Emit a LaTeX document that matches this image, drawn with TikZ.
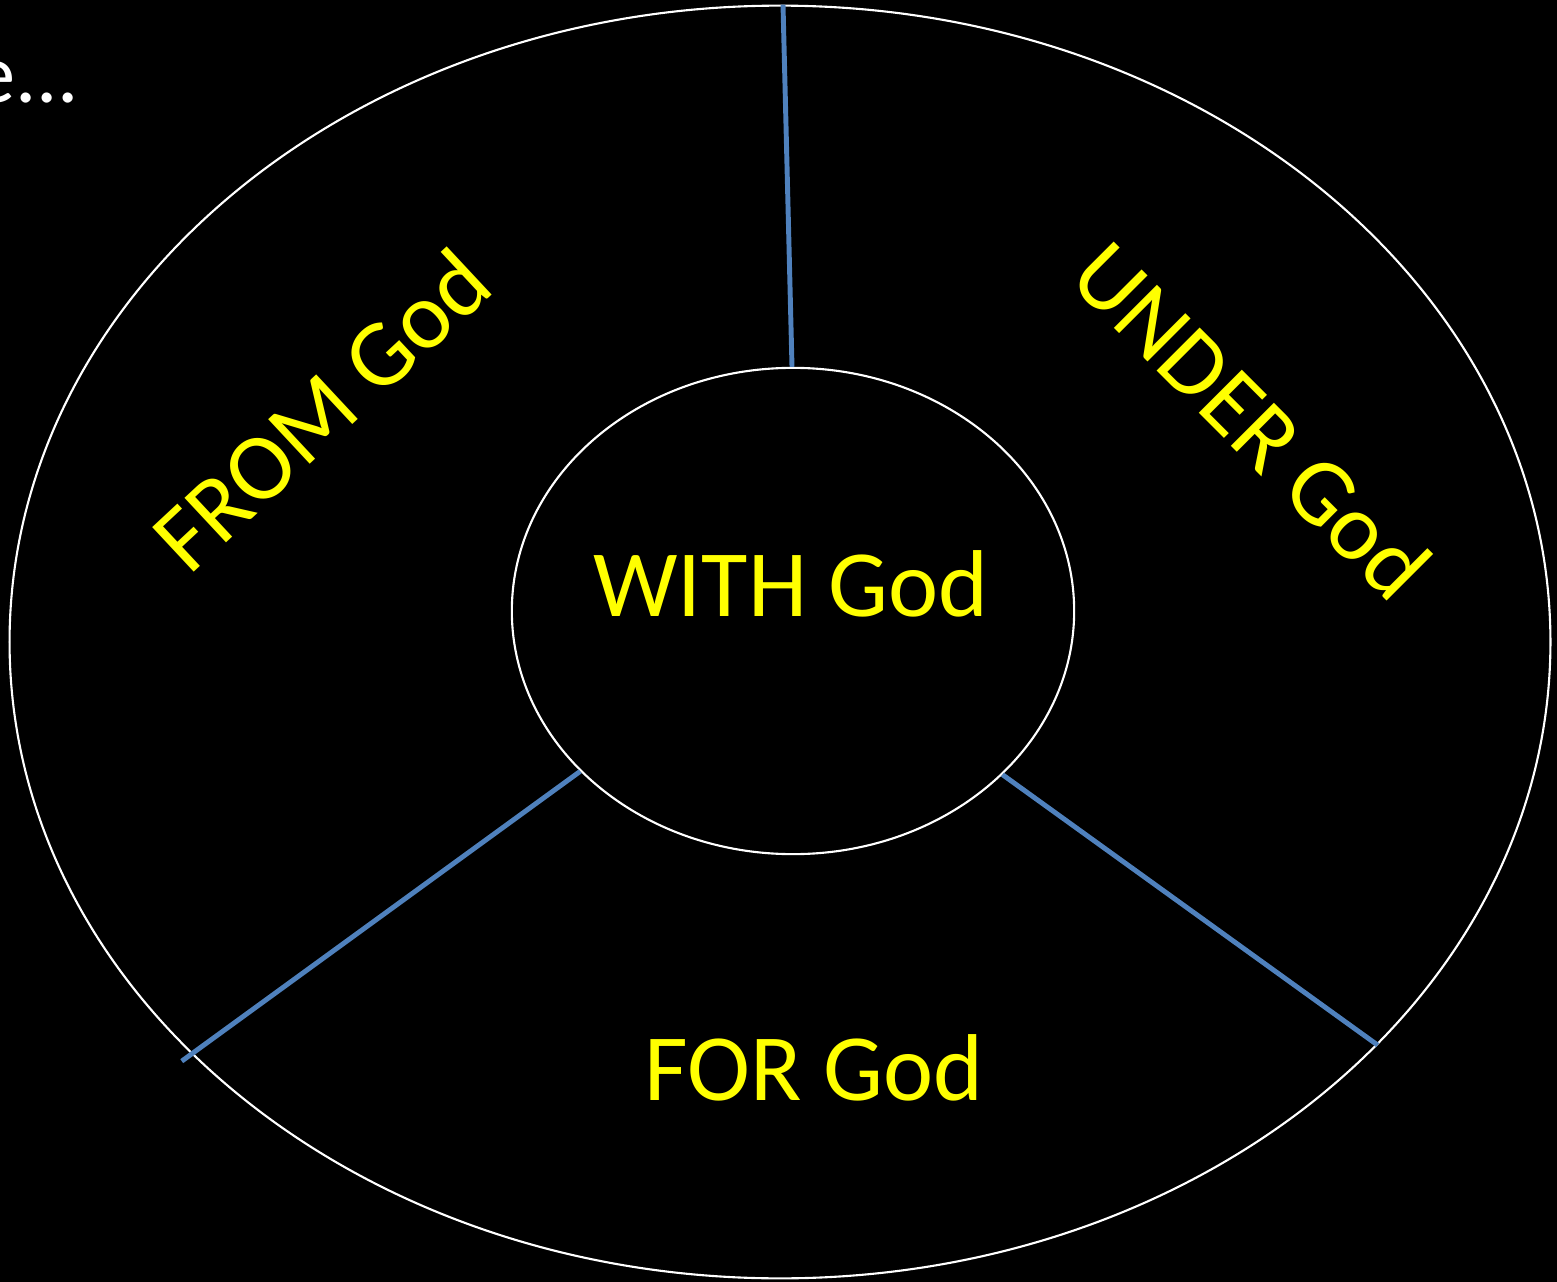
\documentclass[tikz,border=0pt]{standalone}
\usepackage{fontspec}
\setmainfont{Carlito}
\usetikzlibrary{shapes.geometric}
\definecolor{Blue}{HTML}{4F81BD}
\definecolor{Yellow}{HTML}{FFFF00}

\begin{document}
\begin{tikzpicture}[x=0.01cm, y=-0.01cm,
    ring/.style={draw=white, line width=0.6pt, ellipse, inner sep=0pt},
    divider/.style={draw=Blue, line width=1.4pt},
    sectortext/.style={text=Yellow, inner sep=0pt, font=\fontsize{27}{32}\selectfont}]
  \fill[black] (0,0) rectangle (1557,1282);
  \useasboundingbox (0,0) rectangle (1557,1282);
  % rings
  \node[ring, minimum width=15.4cm, minimum height=12.72cm] (outer) at (780,642) {};
  \node[ring, minimum width=5.62cm, minimum height=4.86cm] (inner) at (793,611) {};
  % dividers
  \draw[divider] ([xshift=-0.01cm]inner.north) -- ([xshift=0.03cm]outer.north);
  \draw[divider, shorten >=-0.12cm] (inner.217) -- (outer.215.5);
  \draw[divider] (inner.322) -- (outer.326.5);
  % texts
  \node[text=white, inner sep=0pt, anchor=base east, font=\fontsize{24}{28}\selectfont] (intro) at (80,103) {e...};
  \node[sectortext, anchor=base] (with) at (791,616) {WITH God};
  \node[sectortext, anchor=base] (for) at (814,1100) {FOR God};
  \node[sectortext, rotate=43] (from) at (321,410) {FROM God};
  \node[sectortext, rotate=-45] (under) at (1252,420) {UNDER God};
\end{tikzpicture}
\end{document}
